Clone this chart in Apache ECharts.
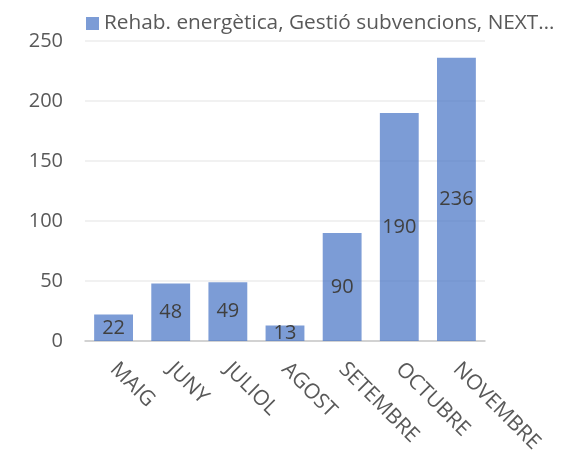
<!DOCTYPE html>
<html>
<head>
<meta charset="utf-8">
<script src="https://cdn.jsdelivr.net/npm/echarts@6/dist/echarts.min.js"></script>
<style>html,body{margin:0;padding:0;background:#fff}#c{width:561px;height:450px}</style>
</head>
<body>
<div id="c"></div>
<script>
var categories = ['MAIG','JUNY','JULIOL','AGOST','SETEMBRE','OCTUBRE','NOVEMBRE'];
var values = [22, 48, 49, 13, 90, 190, 236];
var seriesName = 'Rehab. energètica, Gestió subvencions, NEXT…';
var yTicks = {min: 0, max: 250, interval: 50};

var chart = echarts.init(document.getElementById('c'), null, {renderer: 'canvas'});
var font = '"Open Sans", "Noto Sans", sans-serif';
chart.setOption({
  animation: false,
  textStyle: {fontFamily: font},
  legend: {
    left: 81, top: 8,
    itemWidth: 13, itemHeight: 13, itemGap: 7,
    icon: 'rect',
    textStyle: {fontSize: 20.8, color: '#595959', fontFamily: font},
    data: [seriesName]
  },
  grid: {left: 85, right: 76, top: 41, bottom: 109, containLabel: false, outerBoundsMode: 'none'},
  xAxis: {
    type: 'category',
    data: categories,
    axisLine: {lineStyle: {color: '#c8c8c8', width: 1.5}},
    axisTick: {show: false},
    axisLabel: {rotate: -45, margin: 25, fontSize: 21, color: '#595959', fontFamily: font}
  },
  yAxis: {
    type: 'value',
    min: yTicks.min, max: yTicks.max, interval: yTicks.interval,
    axisLine: {show: false},
    axisTick: {show: false},
    splitLine: {lineStyle: {color: '#ececec', width: 1.5}},
    axisLabel: {margin: 22, fontSize: 20, color: '#595959', fontFamily: font}
  },
  series: [{
    name: seriesName,
    type: 'bar',
    data: values,
    barCategoryGap: '32%',
    itemStyle: {color: 'rgba(68,114,196,0.7)'},
    z: 3,
    label: {show: true, position: 'inside', fontSize: 20, color: '#404040', fontFamily: font}
  }]
});
</script>
</body>
</html>
